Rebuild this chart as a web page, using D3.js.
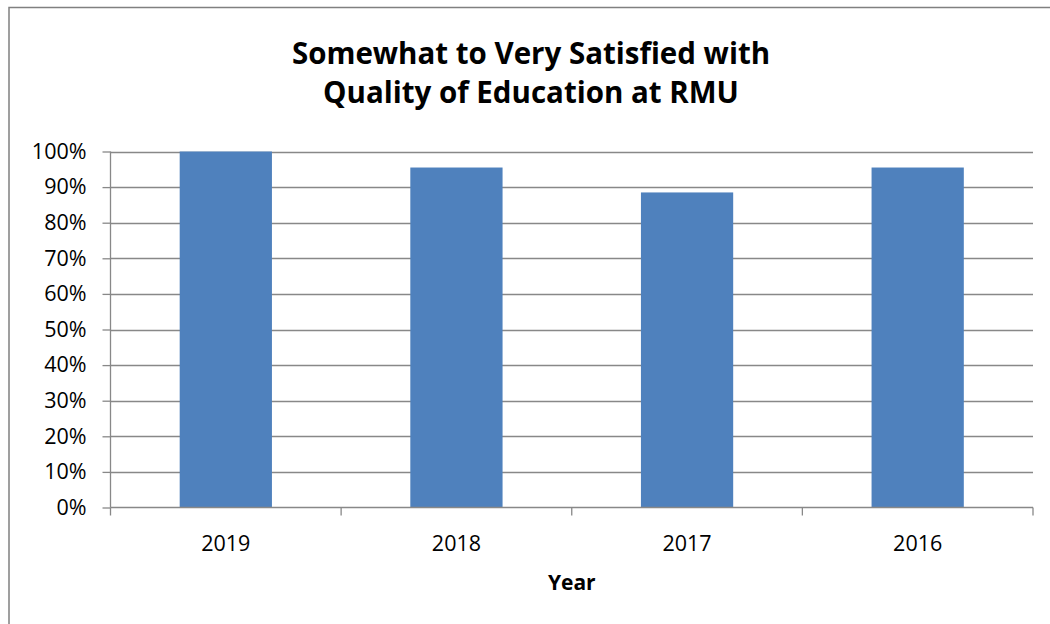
<!DOCTYPE html>
<html>
<head>
<meta charset="utf-8">
<script src="https://cdn.jsdelivr.net/npm/d3@7"></script>
<style>
  body { margin: 0; background: #fff; }
  svg { display: block; font-family: "Open Sans", sans-serif; }
</style>
</head>
<body>
<svg id="chart" width="1050" height="624"></svg>
<script>
const categories = ["2019", "2018", "2017", "2016"];
const values = [1.00, 0.955, 0.885, 0.955];
const yTicks = [0, 0.1, 0.2, 0.3, 0.4, 0.5, 0.6, 0.7, 0.8, 0.9, 1.0];
const titleLines = ["Somewhat to Very Satisfied with", "Quality of Education at RMU"];
const xTitle = "Year";

const svg = d3.select("#chart");
const W = 1050, H = 624;
const plot = { left: 110.5, right: 1033, top: 151.5, bottom: 507.5 };

svg.append("rect").attr("x", 9).attr("y", 7.5).attr("width", W + 20).attr("height", H + 20)
  .attr("fill", "#fff").attr("stroke", "#808080").attr("stroke-width", 1.5);

const x = d3.scaleBand().domain(categories).range([plot.left, plot.right]).paddingInner(0.6).paddingOuter(0.3);
const xOuter = d3.scaleBand().domain(categories).range([plot.left, plot.right]);
const y = d3.scaleLinear().domain([0, 1]).range([plot.bottom, plot.top]);

// gridlines
svg.append("g").selectAll("line").data(yTicks.filter(d => d > 0)).join("line")
  .attr("x1", plot.left).attr("x2", plot.right)
  .attr("y1", d => Math.round(y(d)) + 0.5).attr("y2", d => Math.round(y(d)) + 0.5)
  .attr("stroke", "#888").attr("stroke-width", 1.3);

// bars
svg.append("g").selectAll("rect").data(categories).join("rect")
  .attr("x", (d) => x(d)).attr("width", x.bandwidth())
  .attr("y", (d, i) => y(values[i])).attr("height", (d, i) => y(0) - y(values[i]))
  .attr("fill", "#4F81BD");

// y axis
const yAxis = d3.axisLeft(y).tickValues(yTicks).tickFormat(d3.format(".0%")).tickSize(8).tickPadding(16);
const gy = svg.append("g").attr("transform", `translate(${plot.left},0)`).call(yAxis);
gy.select(".domain").attr("stroke", "#888").attr("stroke-width", 1.3).attr("d", `M0,${plot.top}V${plot.bottom}`);
gy.selectAll(".tick line").attr("stroke", "#888").attr("stroke-width", 1.3);
gy.selectAll(".tick text").attr("font-size", 21.5).attr("fill", "#000").attr("font-family", "Open Sans");

// x axis
const gx = svg.append("g").attr("transform", `translate(0,${plot.bottom})`);
gx.append("line").attr("x1", plot.left).attr("x2", plot.right).attr("stroke", "#888").attr("stroke-width", 1.3);
const bounds = categories.map(c => xOuter(c)).concat([plot.right]);
gx.selectAll("line.tk").data(bounds).join("line").attr("class", "tk")
  .attr("x1", d => d).attr("x2", d => d).attr("y1", 0).attr("y2", 8)
  .attr("stroke", "#888").attr("stroke-width", 1.3);
gx.selectAll("text").data(categories).join("text")
  .attr("x", d => xOuter(d) + xOuter.bandwidth() / 2).attr("y", 43)
  .attr("text-anchor", "middle").attr("font-size", 21.5).attr("fill", "#000").text(d => d);

// axis title
svg.append("text").attr("x", (plot.left + plot.right) / 2).attr("y", 590)
  .attr("text-anchor", "middle").attr("font-size", 21).attr("font-weight", "bold").text(xTitle);

// chart title
svg.append("g").selectAll("text").data(titleLines).join("text")
  .attr("x", 531).attr("y", (d, i) => 64 + i * 39)
  .attr("text-anchor", "middle").attr("font-size", 29.5).attr("font-weight", "bold").text(d => d);
</script>
</body>
</html>
